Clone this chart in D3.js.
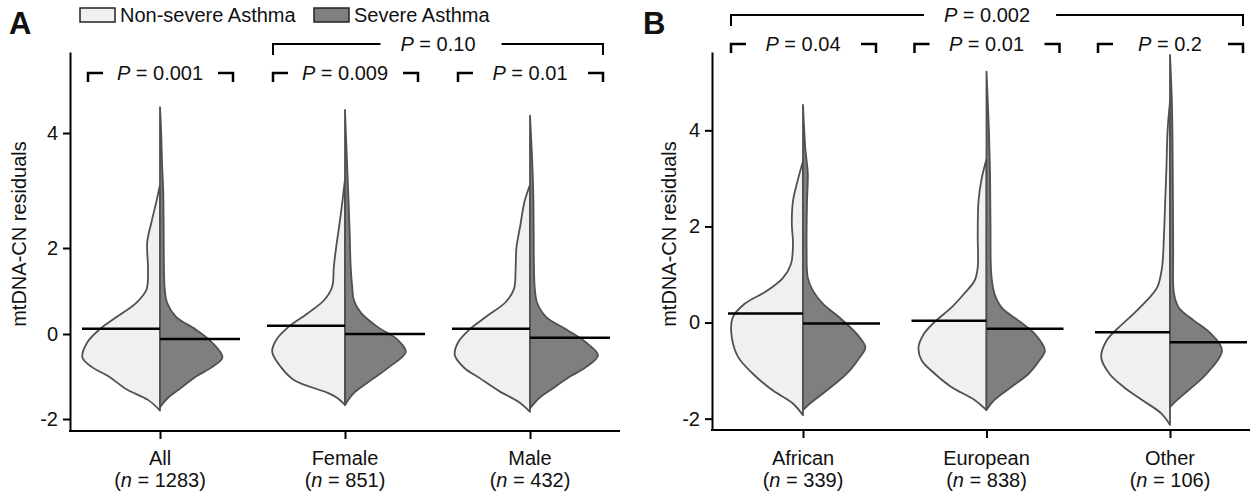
<!DOCTYPE html>
<html>
<head>
<meta charset="utf-8">
<script src="https://d3js.org/d3.v7.min.js"></script>
<style>
body { margin: 0; background: #fff; }
text { font-family: "Liberation Sans", Arial, Helvetica, sans-serif; fill: #111; }
</style>
</head>
<body>
<script>

// ---- data ----
var groupsA = ["All", "Female", "Male"];
var countsA = [1283, 851, 432];
var mediansA = [[0.12, -0.12], [0.19, 0.0], [0.12, -0.09]];   // [non-severe, severe]
var pairPA = ["0.001", "0.009", "0.01"];
var spanPA = "0.10";   // Female vs Male

var groupsB = ["African", "European", "Other"];
var countsB = [339, 838, 106];
var mediansB = [[0.19, -0.02], [0.04, -0.13], [-0.2, -0.41]];
var pairPB = ["0.04", "0.01", "0.2"];
var spanPB = "0.002";  // African vs Other

var yTicks = [-2, 0, 2, 4];

// density profiles: [residual, relative width]
var allNon = [[-1.8,0],[-1.55,0.15],[-1.3,0.42],[-1.0,0.64],[-0.78,0.85],[-0.55,0.97],[-0.2,0.91],[0.1,0.76],[0.4,0.54],[0.72,0.3],[1.03,0.17],[1.5,0.15],[2.1,0.16],[2.43,0.11],[2.78,0.05],[3.0,0.015],[3.1,0]];
var allSev = [[-1.72,0],[-1.5,0.1],[-1.3,0.24],[-1.0,0.45],[-0.78,0.65],[-0.55,0.78],[-0.2,0.65],[0.1,0.45],[0.4,0.2],[0.72,0.09],[1.03,0.06],[1.5,0.05],[2.5,0.045],[3.0,0.04],[3.5,0.025],[4.0,0.015],[4.45,0]];
var femNon = [[-1.67,0],[-1.5,0.1],[-1.39,0.21],[-1.08,0.64],[-0.78,0.8],[-0.42,0.91],[-0.14,0.86],[0.16,0.71],[0.49,0.46],[0.79,0.26],[1.1,0.16],[1.56,0.14],[2.02,0.11],[2.36,0.075],[2.78,0.035],[3.2,0]];
var femSev = [[-1.67,0],[-1.39,0.11],[-1.08,0.33],[-0.78,0.55],[-0.42,0.76],[-0.14,0.66],[0.16,0.41],[0.49,0.2],[0.79,0.11],[1.1,0.09],[1.6,0.07],[2.2,0.06],[2.8,0.045],[3.5,0.025],[4.4,0]];
var maleNon = [[-1.83,0],[-1.6,0.14],[-1.35,0.38],[-1.05,0.62],[-0.8,0.82],[-0.5,0.94],[-0.2,0.9],[0.1,0.76],[0.4,0.55],[0.75,0.3],[1.05,0.2],[1.5,0.18],[2.0,0.17],[2.4,0.12],[2.8,0.07],[3.1,0]];
var maleSev = [[-1.75,0],[-1.5,0.12],[-1.3,0.27],[-1.0,0.5],[-0.78,0.7],[-0.5,0.85],[-0.2,0.7],[0.1,0.46],[0.4,0.2],[0.72,0.09],[1.05,0.06],[1.5,0.05],[2.5,0.045],[3.0,0.04],[3.6,0.025],[4.3,0]];

var afrNon = [[-1.93,0],[-1.68,0.13],[-1.41,0.38],[-1.06,0.63],[-0.72,0.81],[-0.31,0.89],[0.1,0.88],[0.39,0.73],[0.66,0.45],[0.93,0.25],[1.22,0.15],[1.64,0.125],[2.05,0.14],[2.53,0.125],[3.0,0.06],[3.35,0]];
var afrSev = [[-1.82,0],[-1.68,0.09],[-1.41,0.3],[-1.06,0.55],[-0.72,0.71],[-0.52,0.78],[-0.31,0.71],[0.1,0.46],[0.39,0.25],[0.66,0.125],[0.93,0.06],[1.5,0.045],[2.5,0.05],[3.1,0.06],[3.6,0.03],[4.53,0]];
var eurNon = [[-1.82,0],[-1.61,0.15],[-1.34,0.44],[-1.06,0.65],[-0.79,0.81],[-0.52,0.85],[-0.23,0.78],[0.04,0.63],[0.31,0.44],[0.6,0.28],[0.87,0.15],[1.14,0.11],[1.84,0.11],[2.53,0.1],[3.0,0.06],[3.4,0]];
var eurSev = [[-1.82,0],[-1.61,0.1],[-1.34,0.31],[-1.06,0.53],[-0.79,0.66],[-0.58,0.73],[-0.23,0.6],[0.04,0.4],[0.31,0.19],[0.6,0.1],[1.0,0.06],[2.0,0.05],[3.0,0.045],[4.0,0.03],[5.22,0]];
var othNon = [[-2.13,0],[-1.89,0.11],[-1.61,0.35],[-1.34,0.58],[-1.06,0.76],[-0.72,0.86],[-0.37,0.79],[-0.1,0.64],[0.19,0.45],[0.46,0.29],[0.73,0.16],[1.14,0.1],[1.84,0.075],[2.53,0.06],[3.2,0.045],[4.0,0.03],[4.6,0]];
var othSev = [[-1.76,0],[-1.61,0.09],[-1.34,0.28],[-1.06,0.46],[-0.58,0.65],[-0.23,0.51],[0.04,0.3],[0.31,0.11],[0.6,0.05],[1.5,0.04],[3.0,0.035],[4.5,0.025],[5.57,0]];

var densA = [[allNon, allSev], [femNon, femSev], [maleNon, maleSev]];
var densB = [[afrNon, afrSev], [eurNon, eurSev], [othNon, othSev]];

var lightFill = "#f0f0f0", darkFill = "#7f7f7f", edge = "#505050";

var svg = d3.select("body").append("svg")
  .attr("width", 1257)
  .attr("height", 499);

// panel A y axis is uneven in the original figure
var yA = d3.scaleLinear()
  .domain([-2.28, -2, 0, 2, 4, 5.41])
  .range([431, 419, 334, 248, 133, 52]);
var yB = d3.scaleLinear()
  .domain([-2.236, 5.63])
  .range([430, 52]);

var xA = d3.scalePoint().domain(groupsA).range([160, 530]);
var xB = d3.scalePoint().domain(groupsB).range([803, 1170]);

var wScale = d3.scaleLinear().domain([0, 1]).range([0, 80]);

function fmt(d) { return d < 0 ? "-" + (-d) : "" + d; }

function panel(opt) {
  var g = svg.append("g");

  // violins
  opt.groups.forEach(function(name, i) {
    var cx = opt.x(name);
    [-1, 1].forEach(function(side, k) {
      var area = d3.area()
        .curve(d3.curveCatmullRom.alpha(0.5))
        .y(function(d) { return opt.y(d[0]); })
        .x0(cx)
        .x1(function(d) { return cx + side * wScale(d[1]); });
      g.append("path")
        .datum(opt.dens[i][k])
        .attr("d", area)
        .attr("fill", k == 0 ? lightFill : darkFill)
        .attr("stroke", edge)
        .attr("stroke-width", 1.8)
        .attr("stroke-linejoin", "round");
    });
    // medians
    g.append("line")
      .attr("x1", cx - opt.medLen).attr("x2", cx)
      .attr("y1", opt.y(opt.medians[i][0])).attr("y2", opt.y(opt.medians[i][0]))
      .attr("stroke", "#000").attr("stroke-width", 2.5);
    g.append("line")
      .attr("x1", cx).attr("x2", cx + opt.medLen + 2)
      .attr("y1", opt.y(opt.medians[i][1])).attr("y2", opt.y(opt.medians[i][1]))
      .attr("stroke", "#000").attr("stroke-width", 2.5);
  });

  // y axis
  var ya = g.append("g")
    .attr("transform", "translate(" + opt.axisX + ",0)")
    .call(d3.axisLeft(opt.y).tickValues(yTicks).tickSize(7).tickSizeOuter(0).tickPadding(5).tickFormat(fmt));
  ya.select(".domain").attr("stroke", "#000").attr("stroke-width", 2);
  ya.selectAll(".tick line").attr("stroke", "#000").attr("stroke-width", 2);
  ya.selectAll(".tick text").style("font-size", "20px").style("font-family", "Liberation Sans, Arial, sans-serif").attr("fill", "#111");

  // x axis
  var xa = g.append("g")
    .attr("transform", "translate(0," + opt.axisY + ")")
    .call(d3.axisBottom(opt.x).tickSize(8).tickSizeOuter(0).tickFormat(""));
  xa.select(".domain").remove();
  xa.selectAll(".tick line").attr("stroke", "#000").attr("stroke-width", 2);
  g.append("line")
    .attr("x1", opt.axisX - 1).attr("x2", opt.axisRight)
    .attr("y1", opt.axisY).attr("y2", opt.axisY)
    .attr("stroke", "#000").attr("stroke-width", 2);

  opt.groups.forEach(function(name, i) {
    var cx = opt.x(name);
    g.append("text").attr("x", cx).attr("y", 465)
      .attr("text-anchor", "middle").style("font-size", "20px").text(name);
    var t = g.append("text").attr("x", cx).attr("y", 487)
      .attr("text-anchor", "middle").style("font-size", "20px");
    t.append("tspan").text("(");
    t.append("tspan").style("font-style", "italic").text("n");
    t.append("tspan").text(" = " + opt.counts[i] + ")");
  });

  // y title
  g.append("text")
    .attr("transform", "translate(" + opt.titleX + ",234) rotate(-90)")
    .attr("text-anchor", "middle")
    .style("font-size", "20px")
    .text("mtDNA-CN residuals");

  // panel letter
  g.append("text").attr("x", opt.letterX).attr("y", 34)
    .style("font-size", "31px").style("font-weight", "bold").text(opt.letter);

  // pairwise brackets
  opt.groups.forEach(function(name, i) {
    var cx = opt.x(name), x1 = cx - 72, x2 = cx + 73, yy = opt.pairY;
    g.append("path")
      .attr("d", "M" + x1 + "," + (yy + 9) + "V" + yy + "H" + (x1 + 15) +
                 "M" + (x2 - 15) + "," + yy + "H" + x2 + "V" + (yy + 9))
      .attr("fill", "none").attr("stroke", "#000").attr("stroke-width", 2.5);
    pLabel(g, cx, yy, opt.pairP[i]);
  });

  // spanning bracket
  var sx1 = opt.x(opt.span[0]) - 72, sx2 = opt.x(opt.span[1]) + 73, sy = opt.spanY;
  var mid = (sx1 + sx2) / 2;
  var lab = pLabel(g, mid, sy, opt.spanP);
  var w = lab.node().getComputedTextLength();
  g.append("path")
    .attr("d", "M" + sx1 + "," + (sy + 11) + "V" + sy + "H" + (mid - w / 2 - 20) +
               "M" + (mid + w / 2 + 26) + "," + sy + "H" + sx2 + "V" + (sy + 11))
    .attr("fill", "none").attr("stroke", "#000").attr("stroke-width", 2);
}

function pLabel(g, x, yy, val) {
  var t = g.append("text").attr("x", x).attr("y", yy + 7)
    .attr("text-anchor", "middle").style("font-size", "20px");
  t.append("tspan").style("font-style", "italic").text("P");
  t.append("tspan").text(" = " + val);
  return t;
}

panel({
  letter: "A", letterX: 9, groups: groupsA, counts: countsA, medians: mediansA,
  dens: densA, x: xA, y: yA, axisX: 70, axisY: 431, axisRight: 620,
  titleX: 26, medLen: 78, pairP: pairPA, pairY: 73,
  span: ["Female", "Male"], spanP: spanPA, spanY: 44
});

panel({
  letter: "B", letterX: 643, groups: groupsB, counts: countsB, medians: mediansB,
  dens: densB, x: xB, y: yB, axisX: 712, axisY: 430, axisRight: 1250,
  titleX: 676, medLen: 75, pairP: pairPB, pairY: 44,
  span: ["African", "Other"], spanP: spanPB, spanY: 15
});

// legend
var legend = svg.append("g");
var legendItems = ["Non-severe Asthma", "Severe Asthma"];
var legendX = [80, 314];
legendItems.forEach(function(name, i) {
  legend.append("rect")
    .attr("x", legendX[i]).attr("y", 8).attr("width", 35).attr("height", 14)
    .attr("fill", i == 0 ? lightFill : darkFill)
    .attr("stroke", "#222").attr("stroke-width", 1.5);
  legend.append("text")
    .attr("x", legendX[i] + 40).attr("y", 22)
    .style("font-size", "20px").text(name);
});

</script>
</body>
</html>
